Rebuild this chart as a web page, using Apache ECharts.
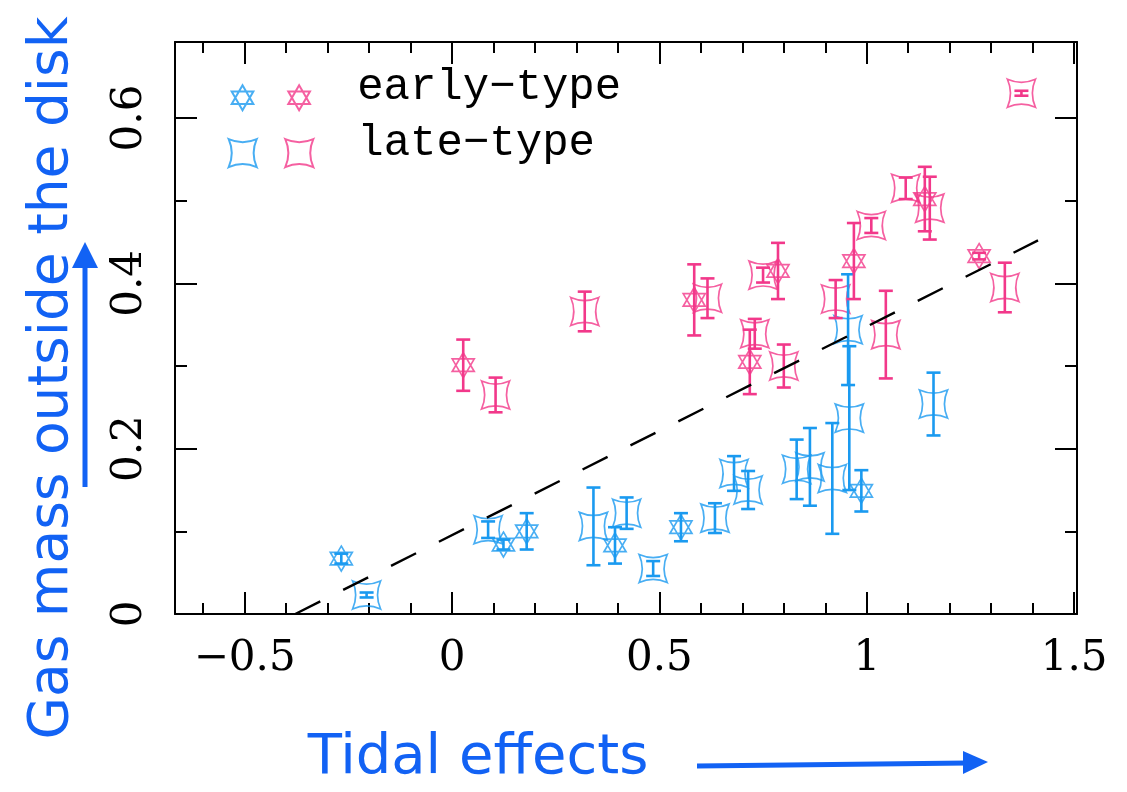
<!DOCTYPE html>
<html>
<head>
<meta charset="utf-8">
<script src="https://cdn.jsdelivr.net/npm/echarts@6/dist/echarts.min.js"></script>
<style>
  html, body { margin: 0; padding: 0; background: #fff; }
  #chart { width: 1127px; height: 792px; }
</style>
</head>
<body>
<div id="chart"></div>
<script>
// blue points: x, y, error
const blueStarX = [-0.267, 0.124, 0.180, 0.393, 0.552, 0.987];
const blueStarY = [0.067, 0.084, 0.100, 0.083, 0.105, 0.149];
const blueStarE = [0.006, 0.006, 0.022, 0.022, 0.017, 0.025];

const blueSqX = [-0.206, 0.087, 0.341, 0.421, 0.485, 0.634, 0.680, 0.714, 0.831, 0.863, 0.917, 0.955, 0.958, 1.161];
const blueSqY = [0.023, 0.102, 0.106, 0.122, 0.055, 0.116, 0.170, 0.150, 0.175, 0.178, 0.164, 0.344, 0.237, 0.254];
const blueSqE = [0.003, 0.010, 0.047, 0.019, 0.009, 0.018, 0.021, 0.023, 0.036, 0.047, 0.067, 0.067, 0.087, 0.038];

// pink points
const pinkStarX = [0.027, 0.584, 0.718, 0.786, 0.969, 1.140, 1.271];
const pinkStarY = [0.301, 0.380, 0.305, 0.415, 0.427, 0.502, 0.433];
const pinkStarE = [0.031, 0.043, 0.039, 0.034, 0.046, 0.039, 0.004];

const pinkSqX = [0.105, 0.320, 0.616, 0.730, 0.750, 0.800, 0.925, 1.011, 1.046, 1.094, 1.152, 1.333, 1.373];
const pinkSqY = [0.265, 0.366, 0.382, 0.339, 0.410, 0.300, 0.381, 0.470, 0.338, 0.515, 0.491, 0.395, 0.630];
const pinkSqE = [0.021, 0.024, 0.024, 0.018, 0.009, 0.026, 0.023, 0.009, 0.053, 0.013, 0.038, 0.030, 0.003];

// dashed trend line end points
const trendX = [-0.378, 1.413];
const trendY = [0, 0.452];

const xMajor = [-0.5, 0, 0.5, 1, 1.5];
const xMinor = [-0.6, -0.4, -0.3, -0.2, -0.1, 0.1, 0.2, 0.3, 0.4, 0.6, 0.7, 0.8, 0.9, 1.1, 1.2, 1.3, 1.4];
const yMajor = [0, 0.2, 0.4, 0.6];
const yMinor = [0.1, 0.3, 0.5];

const BLUE = '#1a9af0';
const PINK = '#f2388a';
const TITLE = '#1262f4';

const STAR = 'path://M50,0 L93.3,75 L6.7,75 Z M50,100 L93.3,25 L6.7,25 Z';
const SQUARE = 'path://M0,0 Q50,22 100,0 Q78,50 100,100 Q50,78 0,100 Q22,50 0,0 Z';
// legend icons: same shapes with an empty move above them, so the label sits higher
const STAR_ICON = 'path://M50,-80 M50,0 L93.3,75 L6.7,75 Z M50,100 L93.3,25 L6.7,25 Z';
const SQUARE_ICON = 'path://M50,-71 M0,0 Q50,22 100,0 Q78,50 100,100 Q50,78 0,100 Q22,50 0,0 Z';

function zip(xs, ys, es) {
  return xs.map((x, i) => es ? [x, ys[i], es[i]] : [x, ys[i]]);
}

function renderErr(params, api) {
  const x = api.value(0), y = api.value(1), e = api.value(2);
  const top = api.coord([x, y + e]);
  const bot = api.coord([x, y - e]);
  const cap = 7;
  const style = { stroke: api.visual('color'), lineWidth: 2.6 };
  return {
    type: 'group',
    children: [
      { type: 'line', shape: { x1: top[0], y1: top[1], x2: bot[0], y2: bot[1] }, style: style },
      { type: 'line', shape: { x1: top[0] - cap, y1: top[1], x2: top[0] + cap, y2: top[1] }, style: style },
      { type: 'line', shape: { x1: bot[0] - cap, y1: bot[1], x2: bot[0] + cap, y2: bot[1] }, style: style }
    ]
  };
}

function markerSeries(name, data, symbol, size, color) {
  return {
    name: name,
    type: 'scatter',
    data: data,
    symbol: symbol,
    symbolSize: size,
    itemStyle: { color: 'rgba(0,0,0,0)', borderColor: color, borderWidth: 1.7 },
    z: 3,
    silent: true
  };
}

function errSeries(data, color) {
  return {
    type: 'custom',
    data: data,
    renderItem: renderErr,
    encode: { x: 0, y: 1 },
    itemStyle: { color: color },
    z: 4,
    silent: true
  };
}

const xRange = { min: -0.668, max: 1.507 };
const yRange = { min: 0, max: 0.692 };
const font = 'DejaVu Serif';

function xAx(grid, pos, ticks, len, labels) {
  return {
    type: 'value', gridIndex: grid, position: pos, min: xRange.min, max: xRange.max,
    axisLine: { show: grid === 0, onZero: false, lineStyle: { color: '#000', width: 2 } },
    axisTick: { show: true, inside: true, length: len, customValues: ticks, lineStyle: { color: '#000', width: 2 } },
    axisLabel: labels ? {
      show: true, customValues: ticks, margin: 24, color: '#000', fontSize: 42, fontFamily: font,
      formatter: v => String(v).replace('-', '\u2212')
    } : { show: false },
    splitLine: { show: false }
  };
}

function yAx(grid, pos, ticks, len, labels) {
  return {
    type: 'value', gridIndex: grid, position: pos, min: yRange.min, max: yRange.max,
    axisLine: { show: grid === 0, onZero: false, lineStyle: { color: '#000', width: 2 } },
    axisTick: { show: true, inside: true, length: len, customValues: ticks, lineStyle: { color: '#000', width: 2 } },
    axisLabel: labels ? {
      show: true, customValues: ticks, margin: 24, rotate: 90, color: '#000', fontSize: 42, fontFamily: font
    } : { show: false },
    splitLine: { show: false }
  };
}

const legendNames = { e1: '', e2: 'early\u2212type', l1: '', l2: 'late\u2212type' };

function legendItem(name, icon, left, top, w, h, padLeft) {
  return {
    data: [name], icon: icon, left: left, top: top, itemWidth: w, itemHeight: h,
    selectedMode: false, padding: 0,
    formatter: n => legendNames[n],
    textStyle: { fontFamily: 'Liberation Mono', fontSize: 44, color: '#000', padding: [0, 0, 0, padLeft] }
  };
}

const chart = echarts.init(document.getElementById('chart'));
chart.setOption({
  backgroundColor: '#fff',
  animation: false,
  grid: [
    { left: 175, top: 42, right: 50, bottom: 178 },
    { left: 175, top: 42, right: 50, bottom: 178 }
  ],
  xAxis: [
    xAx(0, 'bottom', xMajor, 22, true),
    xAx(0, 'top', xMajor, 22, false),
    xAx(1, 'bottom', xMinor, 11, false),
    xAx(1, 'top', xMinor, 11, false)
  ],
  yAxis: [
    yAx(0, 'left', yMajor, 22, true),
    yAx(0, 'right', yMajor, 22, false),
    yAx(1, 'left', yMinor, 12, false),
    yAx(1, 'right', yMinor, 12, false)
  ],
  legend: [
    legendItem('e1', STAR_ICON, 230.7, 64.2, 22, 45, 0),
    legendItem('e2', STAR_ICON, 287.3, 64.2, 22, 45, 42),
    legendItem('l1', SQUARE_ICON, 227.7, 118.3, 28, 48, 0),
    legendItem('l2', SQUARE_ICON, 284.3, 118.3, 28, 48, 39)
  ],
  series: [
    {
      type: 'line',
      data: zip(trendX, trendY),
      symbol: 'none',
      lineStyle: { color: '#000', width: 2.4, type: [28, 25.6] },
      z: 5,
      silent: true
    },
    markerSeries('e1', zip(blueStarX, blueStarY), STAR, [22, 25], BLUE),
    markerSeries('l1', zip(blueSqX, blueSqY), SQUARE, [28, 28], BLUE),
    markerSeries('e2', zip(pinkStarX, pinkStarY), STAR, [22, 25], PINK),
    markerSeries('l2', zip(pinkSqX, pinkSqY), SQUARE, [28, 28], PINK),
    errSeries(zip(blueStarX, blueStarY, blueStarE), BLUE),
    errSeries(zip(blueSqX, blueSqY, blueSqE), BLUE),
    errSeries(zip(pinkStarX, pinkStarY, pinkStarE), PINK),
    errSeries(zip(pinkSqX, pinkSqY, pinkSqE), PINK)
  ],
  graphic: [
    {
      type: 'text', x: 478, y: 758,
      style: { text: 'Tidal effects', fontSize: 56, fontFamily: 'DejaVu Sans', fill: TITLE, align: 'center', verticalAlign: 'middle' }
    },
    {
      type: 'line', shape: { x1: 697, y1: 766, x2: 968, y2: 763 },
      style: { stroke: TITLE, lineWidth: 5 }
    },
    {
      type: 'polygon', shape: { points: [[988, 762], [963, 751], [963, 774]] },
      style: { fill: TITLE }
    },
    {
      type: 'text', x: 53, y: 378, rotation: Math.PI / 2,
      style: { text: 'Gas mass outside the disk', fontSize: 55, fontFamily: 'DejaVu Sans', fill: TITLE, align: 'center', verticalAlign: 'middle' }
    },
    {
      type: 'line', shape: { x1: 85, y1: 487, x2: 85, y2: 262 },
      style: { stroke: TITLE, lineWidth: 5 }
    },
    {
      type: 'polygon', shape: { points: [[85, 242], [72, 268], [98, 268]] },
      style: { fill: TITLE }
    }
  ]
});
</script>
</body>
</html>
